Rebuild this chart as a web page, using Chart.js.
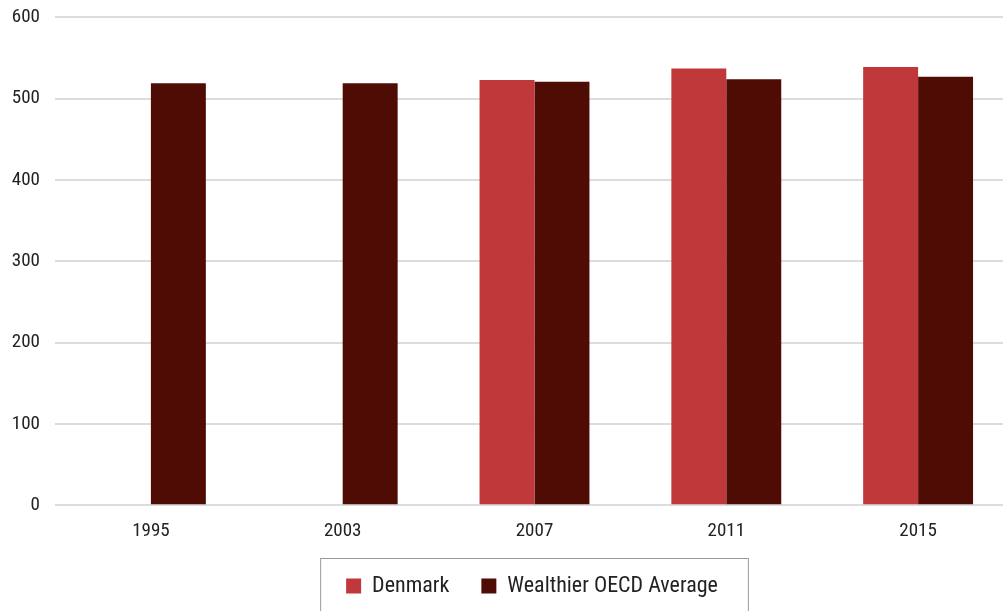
<!DOCTYPE html>
<html>
<head>
<meta charset="utf-8">
<script src="https://cdn.jsdelivr.net/npm/chart.js@4"></script>
<style>
  html, body { margin: 0; padding: 0; background: #fff; overflow: hidden; }
  #wrap { position: absolute; left: 0; top: -9px; width: 1068px; height: 620px; }
</style>
</head>
<body>
<div id="wrap"><canvas id="chart"></canvas></div>
<script>
const years = ['1995', '2003', '2007', '2011', '2015'];
const denmark = [null, null, 523, 537, 539];
const oecdAverage = [519, 519, 521, 524, 527];
const yTicks = [0, 100, 200, 300, 400, 500, 600];

// 'condensed' ends up in the canvas font string as font-stretch
const FONT = 'Roboto, "DejaVu Sans Condensed", sans-serif';
const NARROW = 'condensed';

// legend sits under the middle of the plot, not the middle of the layout box
// (hit boxes get rebuilt by the legend plugin in afterUpdate)
const legendShift = {
    id: 'legendShift',
    afterLayout(chart) {
        const lg = chart.legend;
        lg.left += 25;
        lg.right += 25;
    }
};

// draws the thin grey frame round the legend
const legendFrame = {
    id: 'legendFrame',
    afterDraw(chart) {
        const boxes = chart.legend.legendHitBoxes;
        if (!boxes || !boxes.length) return;
        const first = boxes[0];
        const last = boxes[boxes.length - 1];
        const ctx = chart.ctx;
        const left = first.left - 26;
        const right = last.left + last.width + 30;
        const top = first.top + first.height / 2 - 28;
        ctx.save();
        ctx.strokeStyle = '#9a9a9a';
        ctx.lineWidth = 1;
        ctx.strokeRect(left + 0.5, top + 0.5, right - left, 80);
        ctx.restore();
    }
};

new Chart(document.getElementById('chart'), {
    type: 'bar',
    data: {
        labels: years,
        datasets: [{
            label: 'Denmark',
            data: denmark,
            backgroundColor: '#C0393A'
        }, {
            label: 'Wealthier OECD Average',
            data: oecdAverage,
            backgroundColor: '#4F0C05'
        }]
    },
    options: {
        responsive: true,
        maintainAspectRatio: false,
        animation: false,
        layout: { autoPadding: false, padding: { top: 16, right: 54, bottom: 4, left: 0 } },
        datasets: {
            bar: { categoryPercentage: 0.573, barPercentage: 1.0 }
        },
        plugins: {
            legend: {
                position: 'bottom',
                labels: {
                    boxWidth: 15,
                    boxHeight: 15,
                    padding: 32,
                    color: '#222',
                    font: { family: FONT, size: 22, weight: NARROW }
                }
            },
            tooltip: { enabled: false }
        },
        scales: {
            x: {
                afterFit: (scale) => { scale.height -= 7; },
                grid: { display: false },
                border: { display: false },
                ticks: {
                    color: '#222',
                    padding: 7,
                    font: { family: FONT, size: 19, weight: NARROW }
                }
            },
            y: {
                min: 0,
                max: 600,
                afterBuildTicks: (scale) => { scale.ticks = yTicks.map(v => ({ value: v })); },
                afterFit: (scale) => { scale.width = 55; },
                grid: {
                    color: '#dcdcdc',
                    lineWidth: 2,
                    drawTicks: false
                },
                border: { display: false },
                ticks: {
                    color: '#222',
                    padding: 15,
                    font: { family: FONT, size: 19, weight: NARROW }
                }
            }
        }
    },
    plugins: [legendShift, legendFrame]
});
</script>
</body>
</html>
